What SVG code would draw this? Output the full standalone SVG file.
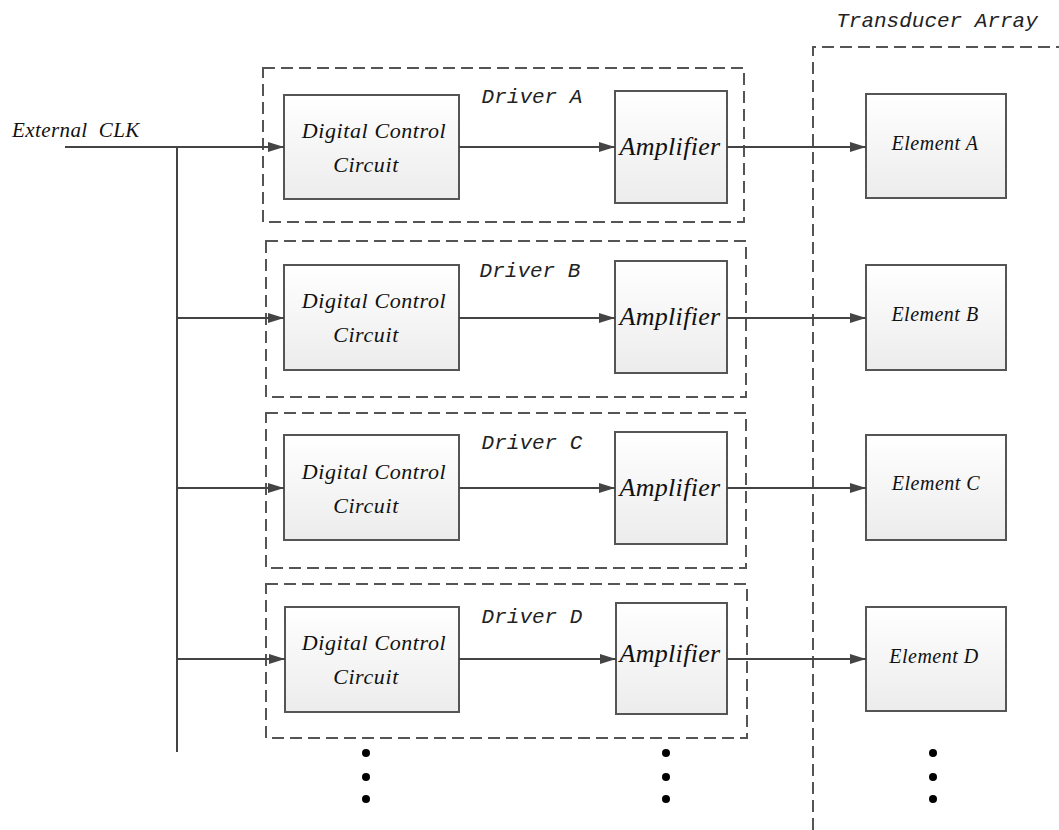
<svg xmlns="http://www.w3.org/2000/svg" width="1059" height="830" viewBox="0 0 1059 830">
<defs>
<linearGradient id="g" x1="0" y1="0" x2="0" y2="1">
<stop offset="0" stop-color="#ffffff"/>
<stop offset="1" stop-color="#ececec"/>
</linearGradient>
<marker id="ar" markerWidth="16" markerHeight="10" refX="16" refY="5" orient="auto" markerUnits="userSpaceOnUse">
<path d="M0,0 L16,5 L0,10 Z" fill="#444"/>
</marker>
</defs>
<style>
.box{fill:url(#g);stroke:#555;stroke-width:2}
.dash{fill:none;stroke:#555;stroke-width:2;stroke-dasharray:12 6}
.ln{fill:none;stroke:#444;stroke-width:2}
.mono{font-family:"Liberation Mono",monospace;font-style:italic;font-size:21px;fill:#222}
.ser{font-family:"Liberation Serif",serif;font-style:italic;fill:#111}
.dcc{font-size:22px;letter-spacing:0.6px}
.amp{font-size:26px;letter-spacing:0.3px}
.el{font-size:20px;letter-spacing:0.5px}
.dot{fill:#000}
</style>
<rect width="1059" height="830" fill="#fff"/>

<g id="transducer-array">
<path class="dash" d="M813,830 V47 H1059"/>
<text class="mono" x="937" y="27" text-anchor="middle">Transducer Array</text>
</g>

<g id="external-clk">
<text class="ser" x="12" y="137" font-size="21" letter-spacing="0.4" xml:space="preserve" style="white-space:pre">External  CLK</text>
</g>

<g id="driver-a">
<rect class="dash" x="263" y="68" width="481" height="154"/>
<text class="mono" x="532" y="103" text-anchor="middle">Driver A</text>
</g>
<g id="driver-b">
<rect class="dash" x="266" y="241" width="480" height="156"/>
<text class="mono" x="530" y="277" text-anchor="middle">Driver B</text>
</g>
<g id="driver-c">
<rect class="dash" x="266" y="413" width="480" height="155"/>
<text class="mono" x="532" y="449" text-anchor="middle">Driver C</text>
</g>
<g id="driver-d">
<rect class="dash" x="266" y="584" width="481" height="154"/>
<text class="mono" x="532" y="623" text-anchor="middle">Driver D</text>
</g>

<g id="dcc-a"><rect class="box" x="284" y="95" width="175" height="104"/>
<text class="ser dcc" text-anchor="middle"><tspan x="374" y="138">Digital Control</tspan><tspan x="366" y="172">Circuit</tspan></text></g>
<g id="dcc-b"><rect class="box" x="284" y="265" width="175" height="105"/>
<text class="ser dcc" text-anchor="middle"><tspan x="374" y="308">Digital Control</tspan><tspan x="366" y="342">Circuit</tspan></text></g>
<g id="dcc-c"><rect class="box" x="284" y="435" width="175" height="105"/>
<text class="ser dcc" text-anchor="middle"><tspan x="374" y="479">Digital Control</tspan><tspan x="366" y="513">Circuit</tspan></text></g>
<g id="dcc-d"><rect class="box" x="285" y="607" width="174" height="105"/>
<text class="ser dcc" text-anchor="middle"><tspan x="374" y="650">Digital Control</tspan><tspan x="366" y="684">Circuit</tspan></text></g>

<g id="amp-a"><rect class="box" x="615" y="91" width="112" height="112"/>
<text class="ser amp" x="670" y="155" text-anchor="middle">Amplifier</text></g>
<g id="amp-b"><rect class="box" x="615" y="261" width="112" height="112"/>
<text class="ser amp" x="670" y="325" text-anchor="middle">Amplifier</text></g>
<g id="amp-c"><rect class="box" x="615" y="432" width="112" height="112"/>
<text class="ser amp" x="670" y="496" text-anchor="middle">Amplifier</text></g>
<g id="amp-d"><rect class="box" x="616" y="603" width="111" height="111"/>
<text class="ser amp" x="670" y="662" text-anchor="middle">Amplifier</text></g>

<g id="element-a"><rect class="box" x="866" y="94" width="140" height="104"/>
<text class="ser el" x="935" y="150" text-anchor="middle">Element A</text></g>
<g id="element-b"><rect class="box" x="866" y="265" width="140" height="105"/>
<text class="ser el" x="935" y="321" text-anchor="middle">Element B</text></g>
<g id="element-c"><rect class="box" x="866" y="435" width="140" height="105"/>
<text class="ser el" x="936" y="490" text-anchor="middle">Element C</text></g>
<g id="element-d"><rect class="box" x="866" y="607" width="140" height="104"/>
<text class="ser el" x="934" y="663" text-anchor="middle">Element D</text></g>

<g id="connectors">
<path class="ln" d="M65,147 H177 V752"/>
<path class="ln" d="M177,147 H284" marker-end="url(#ar)"/>
<path class="ln" d="M177,318 H284" marker-end="url(#ar)"/>
<path class="ln" d="M177,488 H284" marker-end="url(#ar)"/>
<path class="ln" d="M177,659 H285" marker-end="url(#ar)"/>
<path class="ln" d="M459,147 H615" marker-end="url(#ar)"/>
<path class="ln" d="M459,318 H615" marker-end="url(#ar)"/>
<path class="ln" d="M459,488 H615" marker-end="url(#ar)"/>
<path class="ln" d="M459,659 H616" marker-end="url(#ar)"/>
<path class="ln" d="M727,147 H866" marker-end="url(#ar)"/>
<path class="ln" d="M727,318 H866" marker-end="url(#ar)"/>
<path class="ln" d="M727,488 H866" marker-end="url(#ar)"/>
<path class="ln" d="M727,659 H866" marker-end="url(#ar)"/>
</g>

<g id="ellipsis">
<circle class="dot" cx="366" cy="753" r="4"/><circle class="dot" cx="366" cy="777" r="4"/><circle class="dot" cx="366" cy="799" r="4"/>
<circle class="dot" cx="666" cy="753" r="4"/><circle class="dot" cx="666" cy="777" r="4"/><circle class="dot" cx="666" cy="799" r="4"/>
<circle class="dot" cx="933" cy="753" r="4"/><circle class="dot" cx="933" cy="777" r="4"/><circle class="dot" cx="933" cy="799" r="4"/>
</g>
</svg>
